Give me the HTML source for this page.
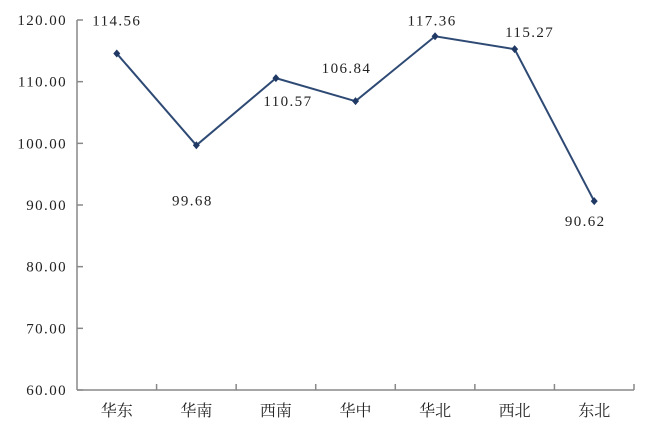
<!DOCTYPE html>
<html><head><meta charset="utf-8"><style>
html,body{margin:0;padding:0;background:#fff;}
svg text{font-family:"Liberation Serif","Noto Serif CJK SC",serif;fill:#222;}
svg text.num{letter-spacing:1.4px;}
</style></head><body>
<svg id="chart" width="649" height="431" xmlns="http://www.w3.org/2000/svg"></svg>
<script>
const categories=["华东","华南","西南","华中","华北","西北","东北"];
const values=[114.56,99.68,110.57,106.84,117.36,115.27,90.62];
const yTicks=[60,70,80,90,100,110,120];
const labelDx=[0,-4,12,-9,-3,15,-9];
const labelDy=[-33,55,23,-33,-16,-17,20];
const svg=document.getElementById('chart');
const NS='http://www.w3.org/2000/svg';
const L=77,R=634,T=20,B=390,yMin=60,yMax=120;
const band=(R-L)/categories.length;
const x=i=>L+band*(i+0.5);
const y=v=>B-(v-yMin)/(yMax-yMin)*(B-T);
function mk(tag,attrs,parent){const e=document.createElementNS(NS,tag);for(const k in attrs)e.setAttribute(k,attrs[k]);(parent||svg).appendChild(e);return e;}
const ax=mk('g',{});


const ya=mk('line',{x1:L,y1:T,x2:L,y2:B,stroke:'#888','stroke-width':1.5},ax);


const xa=mk('line',{x1:L,y1:B,x2:R,y2:B,stroke:'#888','stroke-width':1.5},ax);


yTicks.forEach(t=>{
  const tk=mk('line',{x1:L,y1:y(t),x2:L+6,y2:y(t),stroke:'#888','stroke-width':1.5},ax);
  
  
  const tl=mk('text',{x:L-10,y:y(t)+5,'text-anchor':'end','font-size':15,'class':'num'},ax);
  tl.textContent=t.toFixed(2);
  
  
});
categories.forEach((c,i)=>{
  const xt=L+band*(i+1);
  const tk=mk('line',{x1:xt,y1:B,x2:xt,y2:B-6,stroke:'#888','stroke-width':1.5},ax);
  
  
  const tl=mk('text',{x:x(i),y:B+26,'text-anchor':'middle','font-size':16},ax);
  tl.textContent=c;
  
  
});
const line=mk('polyline',{points:values.map((v,i)=>x(i)+','+y(v)).join(' '),fill:'none',stroke:'#2e4a74','stroke-width':2});


values.forEach((v,i)=>{
  const px=x(i),py=y(v);
  const m=mk('polygon',{points:`${px},${py-4} ${px+3.5},${py} ${px},${py+4} ${px-3.5},${py}`,fill:'#1f3864'});
  
  
  const t=mk('text',{x:px+labelDx[i],y:py+labelDy[i]+5,'text-anchor':'middle','font-size':15,'class':'num'});
  t.textContent=v.toFixed(2);
  
  
});
</script>
</body></html>
